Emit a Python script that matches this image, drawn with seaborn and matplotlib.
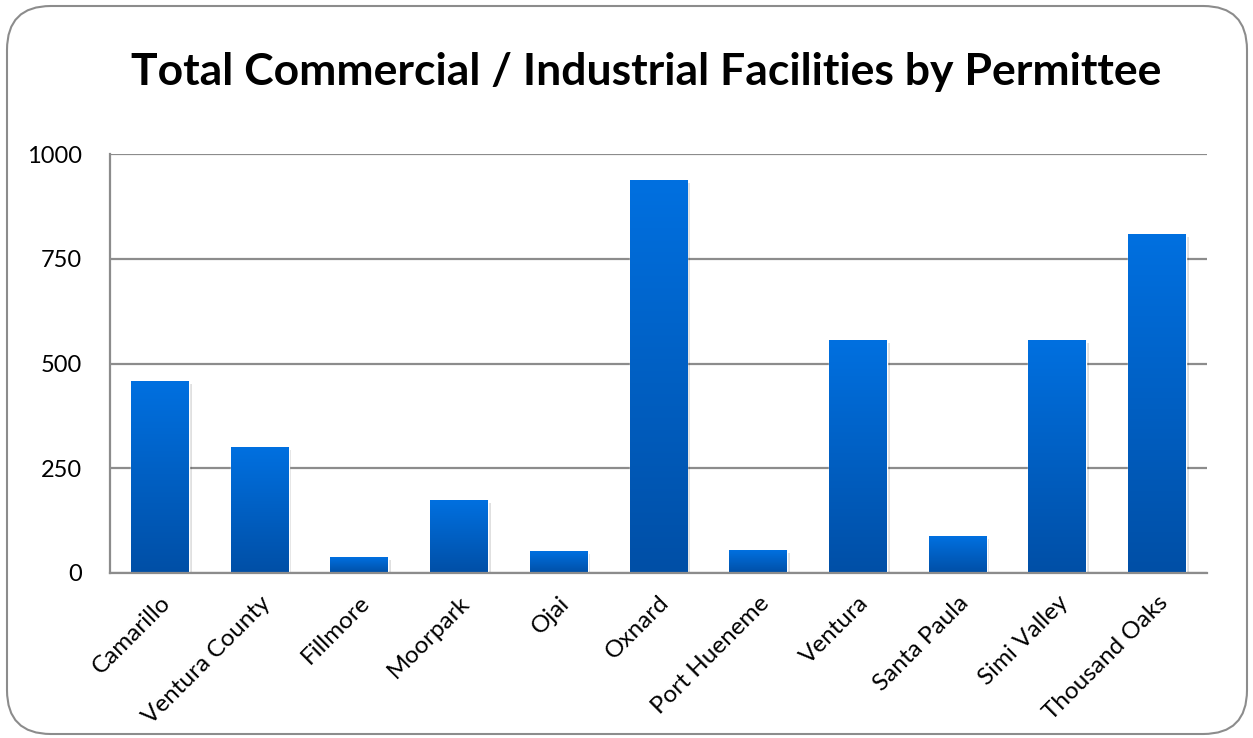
import numpy as np
import pandas as pd
import matplotlib
matplotlib.use("Agg")
import matplotlib.pyplot as plt
import seaborn as sns
from matplotlib.patches import FancyBboxPatch
from matplotlib.colors import LinearSegmentedColormap
import matplotlib.patheffects as pe

permittees = ["Camarillo", "Ventura County", "Fillmore", "Moorpark", "Ojai", "Oxnard",
              "Port Hueneme", "Ventura", "Santa Paula", "Simi Valley", "Thousand Oaks"]
facilities = [458, 300, 37, 174, 52, 938, 54, 556, 88, 556, 809]
y_ticks = [0, 250, 500, 750, 1000]
title = "Total Commercial / Industrial Facilities by Permittee"

df = pd.DataFrame({"Permittee": permittees, "Facilities": facilities})

sns.set_theme(style="white")
plt.rcParams["font.family"] = ["Lato", "DejaVu Sans"]

fig = plt.figure(figsize=(12.53, 7.38), dpi=100)
ax = fig.add_axes([110 / 1253, 1 - 572.7 / 738, (1207 - 110) / 1253, (572.7 - 154.3) / 738])

sns.barplot(data=df, x="Permittee", y="Facilities", color="#0066D0", width=0.58, ax=ax,
            saturation=1, zorder=3)

cmap = LinearSegmentedColormap.from_list("bar", ["#004FA6", "#0070E0"])
grad = np.linspace(0, 1, 256).reshape(-1, 1)
for p in list(ax.patches):
    x0, w, h = p.get_x(), p.get_width(), p.get_height()
    p.set_path_effects([pe.SimplePatchShadow(offset=(2, -2), shadow_rgbFace="#000000", alpha=0.12),
                        pe.Normal()])
    im = ax.imshow(grad, cmap=cmap, origin="lower", aspect="auto",
                   extent=[x0, x0 + w, 0, h], zorder=4)
    im.set_clip_path(p)

ax.set_xlim(-0.5, len(permittees) - 0.5)
ax.set_ylim(0, 1000)
ax.set_yticks(y_ticks)
ax.set_yticklabels([str(t) for t in y_ticks], fontsize=17, color="black")
ax.set_xticks(range(len(permittees)))
ax.set_xticklabels(permittees, rotation=45, ha="right", rotation_mode="anchor",
                   fontsize=17.5, color="black")
ax.tick_params(axis="both", length=0)
ax.tick_params(axis="y", pad=20)
ax.tick_params(axis="x", pad=14)
ax.set_xlabel("")
ax.set_ylabel("")
ax.yaxis.grid(True, color="#8C8C8C", linewidth=1.6)
ax.set_axisbelow(True)
for s in ["top", "right"]:
    ax.spines[s].set_visible(False)
for s in ["left", "bottom"]:
    ax.spines[s].set_color("#8C8C8C")
    ax.spines[s].set_linewidth(1.6)
ax.spines["bottom"].set_zorder(6)

fig.text(646 / 1253, 1 - 72 / 738, title, ha="center", va="center", fontsize=32,
         fontweight="bold", color="black")

border = FancyBboxPatch((7 / 1253, 4 / 738), 1240 / 1253, 728 / 738,
                        boxstyle="round,pad=0,rounding_size=0.035",
                        transform=fig.transFigure, fill=False,
                        edgecolor="#8C8C8C", linewidth=1.5, mutation_aspect=1253 / 738)
fig.patches.append(border)

fig.savefig("out.png", dpi=100)
